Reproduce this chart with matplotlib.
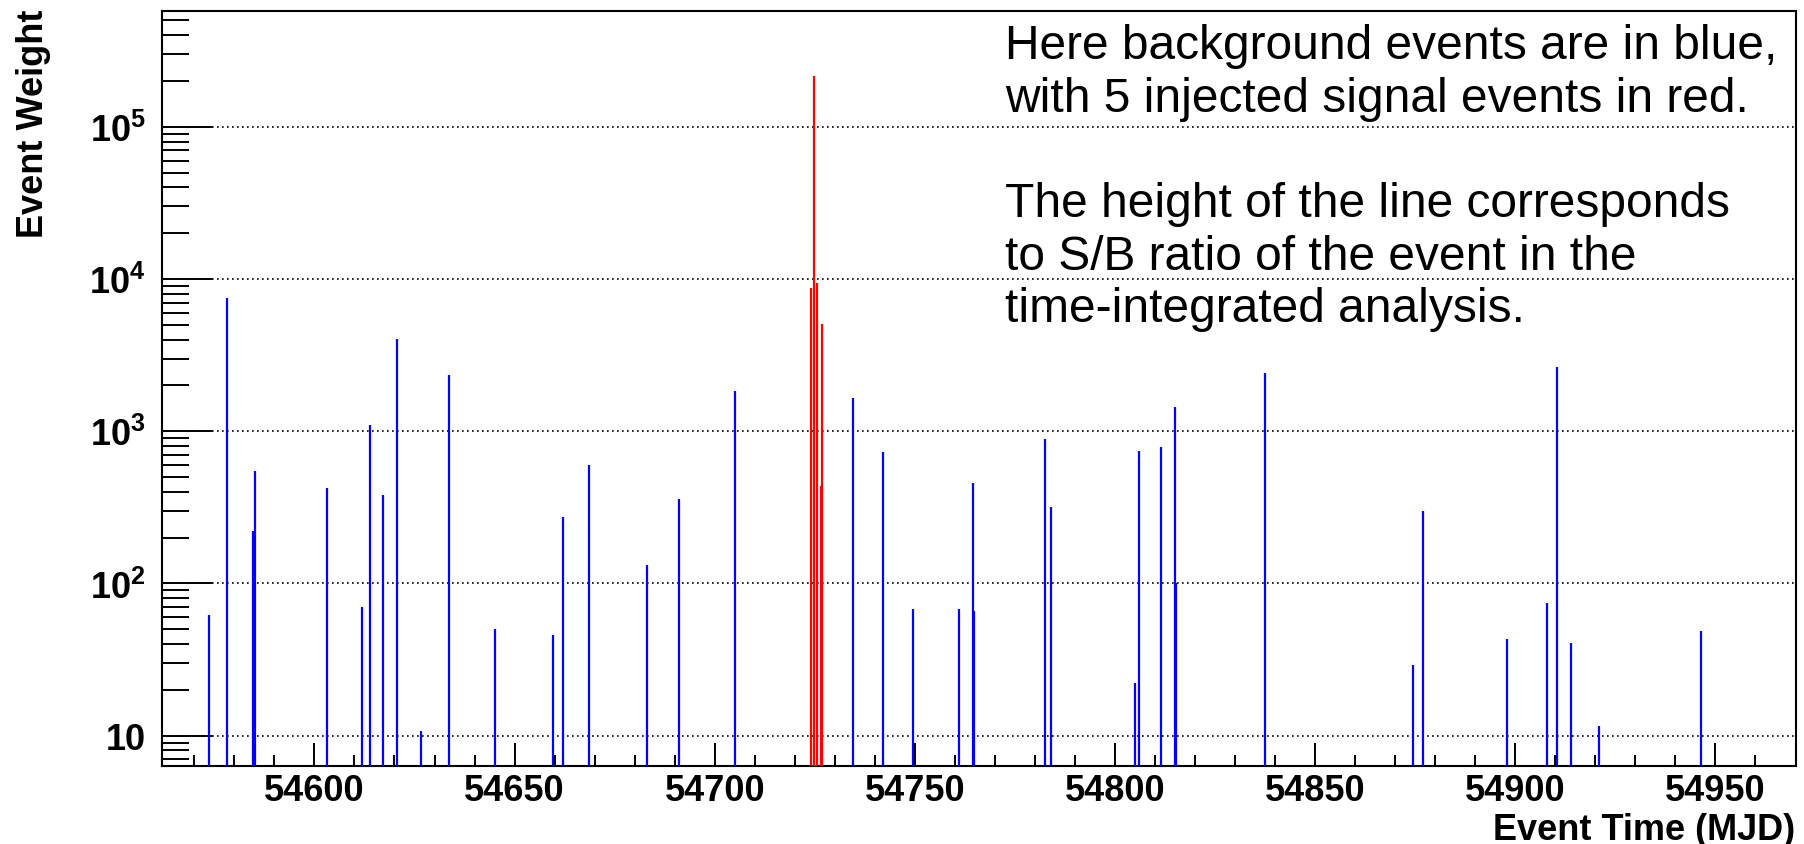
import matplotlib
matplotlib.use("Agg")
import matplotlib.pyplot as plt
from matplotlib.ticker import MultipleLocator, FormatStrFormatter, FixedLocator, LogLocator, NullFormatter

plt.rcParams['font.family'] = ['Liberation Sans', 'DejaVu Sans']
plt.rcParams['mathtext.fontset'] = 'custom'
plt.rcParams['mathtext.rm'] = 'Liberation Sans'
plt.rcParams['mathtext.bf'] = 'Liberation Sans:bold'
plt.rcParams['mathtext.it'] = 'Liberation Sans:italic'

# Background events: arrival time (MJD) and event weight
bkg_time = [54573.6, 54578.1, 54584.7, 54585.1, 54603.1, 54612.0, 54614.0, 54617.1,
            54620.6, 54626.6, 54633.6, 54645.0, 54659.5, 54662.1, 54668.5, 54683.1,
            54691.1, 54705.0, 54734.5, 54742.0, 54749.6, 54761.1, 54764.6, 54764.9,
            54782.6, 54784.0, 54805.0, 54806.0, 54811.5, 54814.9, 54815.3, 54837.5,
            54874.5, 54877.0, 54898.0, 54908.0, 54910.5, 54914.0, 54921.0, 54946.5]
bkg_weight = [62, 7470, 222, 551, 422, 70, 1100, 383,
              4050, 10.8, 2350, 50.5, 46, 275, 603, 133,
              360, 1846, 1644, 726, 68, 68, 459, 66,
              893, 319, 22.3, 745, 791, 1449, 101, 2427,
              29.2, 301, 43.4, 74.8, 2655, 40.8, 11.5, 49]

# Injected signal events
sig_time = [54723.98, 54724.87, 54725.47, 54726.47, 54726.87]
sig_weight = [8730, 216000, 9420, 437, 5070]

y_ticks = [10, 100, 1000, 10000, 100000]
y_tick_labels = ['10', r'$\mathbf{10^{2}}$', r'$\mathbf{10^{3}}$',
                 r'$\mathbf{10^{4}}$', r'$\mathbf{10^{5}}$']

note_lines = ["Here background events are in blue,",
              "with 5 injected signal events in red.",
              "",
              "The height of the line corresponds",
              "to S/B ratio of the event in the",
              "time-integrated analysis."]

W, H = 1804, 845
fig = plt.figure(figsize=(W / 100, H / 100), dpi=100)
ax = fig.add_axes([162.3 / W, 1 - 766.7 / H, (1795.5 - 162.3) / W, (766.7 - 12) / H])

ax.set_yscale('log')
ymin, ymax = 6.35, 5.76e5
ax.set_xlim(54562, 54970)
ax.set_ylim(ymin, ymax)

ax.vlines(bkg_time, 1, bkg_weight, colors=(0, 0, 1), linewidth=1.6, zorder=3)
ax.vlines(sig_time, 1, sig_weight, colors=(1, 0, 0), linewidth=1.6, zorder=4)

# axes styling
ax.yaxis.set_major_locator(FixedLocator(y_ticks))
ax.set_yticklabels(y_tick_labels)
ax.yaxis.set_minor_locator(LogLocator(base=10, subs=range(2, 10), numticks=20))
ax.yaxis.set_minor_formatter(NullFormatter())
ax.xaxis.set_major_locator(MultipleLocator(50))
ax.xaxis.set_minor_locator(MultipleLocator(10))
ax.xaxis.set_major_formatter(FormatStrFormatter('%d'))

for lab in ax.get_xticklabels() + ax.get_yticklabels():
    lab.set_fontweight('bold')
ax.tick_params(axis='both', which='both', direction='in', width=1.4, colors='black',
               top=False, right=False, labelsize=26)
ax.tick_params(axis='y', which='major', length=36, pad=12)
ax.tick_params(axis='y', which='minor', length=19.4)
ax.tick_params(axis='x', which='major', length=16.8, pad=5.5)
ax.tick_params(axis='x', which='minor', length=8)

for sp in ax.spines.values():
    sp.set_linewidth(1.5)
    sp.set_color('black')

ax.yaxis.grid(True, which='major', color='black', linestyle=(0, (1, 2)), linewidth=1.2)
ax.set_axisbelow(True)

fig.text(1795 / W, 1 - 840 / H, 'Event Time (MJD)', ha='right', va='baseline',
         fontsize=26, fontweight='bold')
fig.text(42.7 / W, 1 - 10 / H, 'Event Weight', rotation=90, rotation_mode='anchor',
         ha='right', va='baseline', fontsize=26, fontweight='bold')

base0 = 59.5
step = 52.5
for i, line in enumerate(note_lines):
    if line:
        fig.text(1005 / W, 1 - (base0 + i * step) / H, line, ha='left', va='baseline',
                 fontsize=34.5, color='black')

fig.savefig('out.png', dpi=100)
